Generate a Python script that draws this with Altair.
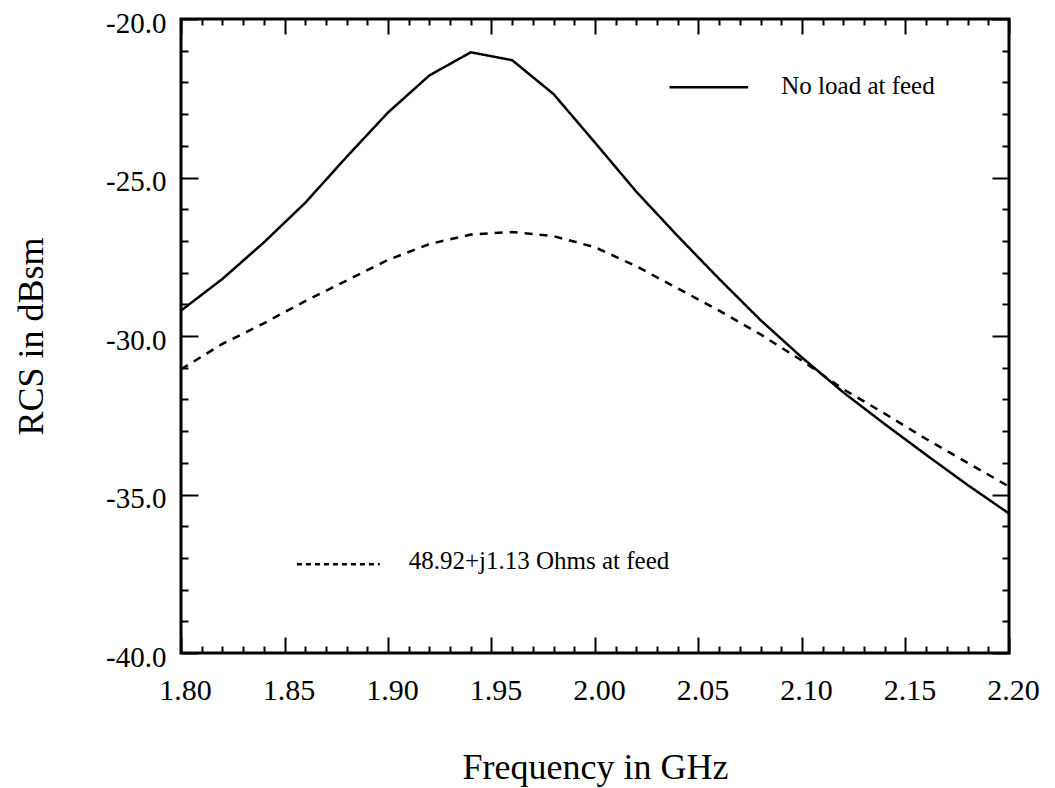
import altair as alt
import pandas as pd

# ---- data ----
freq = [1.80, 1.82, 1.84, 1.86, 1.88, 1.90, 1.92, 1.94, 1.96, 1.98, 2.00,
        2.02, 2.04, 2.06, 2.08, 2.10, 2.12, 2.14, 2.16, 2.18, 2.20]
rcs_no_load = [-29.2, -28.2, -27.05, -25.8, -24.35, -22.95, -21.78, -21.05, -21.3, -22.37, -23.9,
               -25.45, -26.85, -28.2, -29.5, -30.68, -31.78, -32.78, -33.75, -34.7, -35.6]
rcs_loaded = [-31.05, -30.25, -29.6, -28.9, -28.25, -27.6, -27.1, -26.8, -26.72, -26.85, -27.2,
              -27.8, -28.5, -29.2, -29.95, -30.78, -31.68, -32.45, -33.25, -34.0, -34.75]
series_names = ["No load at feed", "48.92+j1.13 Ohms at feed"]

x_major = [1.80, 1.85, 1.90, 1.95, 2.00, 2.05, 2.10, 2.15, 2.20]
x_minor = [round(1.80 + 0.01 * i, 2) for i in range(41) if i % 5 != 0]
y_major = [-40, -35, -30, -25, -20]
y_minor = [v for v in range(-39, -20) if v % 5 != 0]

# in-plot legend (data coordinates)
leg_x0 = [2.036, 1.856]
leg_x1 = [2.074, 1.896]
leg_y = [-22.15, -37.2]
leg_text_x = [2.090, 1.910]
leg_text_y = [-22.1, -37.1]

# ---- tables ----
df = pd.DataFrame({
    "freq": freq * 2,
    "rcs": rcs_no_load + rcs_loaded,
    "series": [series_names[0]] * len(freq) + [series_names[1]] * len(freq),
})
leg = pd.DataFrame({"series": series_names, "x0": leg_x0, "x1": leg_x1, "y": leg_y,
                    "tx": leg_text_x, "ty": leg_text_y})

FONT = "Liberation Serif"
W, H = 828, 634
xs = alt.Scale(domain=[1.8, 2.2], nice=False, zero=False)
ys = alt.Scale(domain=[-40, -20], nice=False, zero=False)

base = alt.Chart(df)


def tick_axis(orient, values, size):
    return alt.Axis(orient=orient, values=values, offset=-size, tickSize=size, tickWidth=2,
                    tickColor="black", labels=False, domain=False, grid=False, title=None)


def tick_layer(xorient, yorient, xv, yv, xsize, ysize):
    return base.mark_point(opacity=0).encode(
        x=alt.X("freq:Q", scale=xs, axis=tick_axis(xorient, xv, xsize)),
        y=alt.Y("rcs:Q", scale=ys, axis=tick_axis(yorient, yv, ysize)),
    )


dash_scale = alt.Scale(domain=series_names, range=[[1, 0], [8, 7]])

lines = base.mark_line(color="black", strokeWidth=2.5).encode(
    x=alt.X("freq:Q", scale=xs, axis=alt.Axis(
        orient="bottom", values=x_major, format=".2f", ticks=False, domain=False, grid=False,
        labelFont=FONT, labelFontSize=30, labelColor="black", labelPadding=22, labelFlush=False,
        labelOffset=4,
        title="Frequency in GHz", titleFont=FONT, titleFontSize=36, titleFontWeight="normal",
        titleColor="black", titleX=W / 2, titleY=114, titleBaseline="middle", titleAlign="center")),
    y=alt.Y("rcs:Q", scale=ys, axis=alt.Axis(
        orient="left", values=y_major, format=".1f", ticks=False, domain=False, grid=False,
        labelExpr="replace(datum.label, '\u2212', '-')",
        labelFont=FONT, labelFontSize=29, labelColor="black", labelPadding=15, labelFlush=False,
        labelOffset=4,
        title="RCS in dBsm", titleFont=FONT, titleFontSize=36, titleFontWeight="normal",
        titleColor="black", titleX=-150, titleY=H / 2, titleAngle=270,
        titleBaseline="middle", titleAlign="center")),
    strokeDash=alt.StrokeDash("series:N", scale=dash_scale, legend=None),
    detail="series:N",
)

leg_lines = alt.Chart(leg).mark_rule(color="black", strokeWidth=2.5).encode(
    x=alt.X("x0:Q", scale=xs, axis=None),
    x2="x1:Q",
    y=alt.Y("y:Q", scale=ys, axis=None),
    strokeDash=alt.StrokeDash("series:N", scale=alt.Scale(domain=series_names, range=[[1, 0], [5, 4]]),
                              legend=None),
)

leg_text = alt.Chart(leg).mark_text(font=FONT, fontSize=25, align="left", baseline="middle",
                                    color="black").encode(
    x=alt.X("tx:Q", scale=xs, axis=None),
    y=alt.Y("ty:Q", scale=ys, axis=None),
    text="series:N",
)

chart = alt.layer(
    lines,
    tick_layer("bottom", "left", x_major, y_major, 16, 17),
    tick_layer("bottom", "left", x_minor, y_minor, 7, 7),
    tick_layer("top", "right", x_major, y_major, 15, 17),
    tick_layer("top", "right", x_minor, y_minor, 6, 7),
    leg_lines,
    leg_text,
).resolve_axis(x="independent", y="independent").resolve_scale(strokeDash="independent").properties(
    width=W, height=H,
    autosize="none",
    padding={"left": 181, "top": 19, "right": 1055 - 181 - W, "bottom": 788 - 19 - H},
    background="white",
).configure_view(stroke="black", strokeWidth=3)

chart.save("out.html", embed_options={"renderer": "svg", "actions": False})
